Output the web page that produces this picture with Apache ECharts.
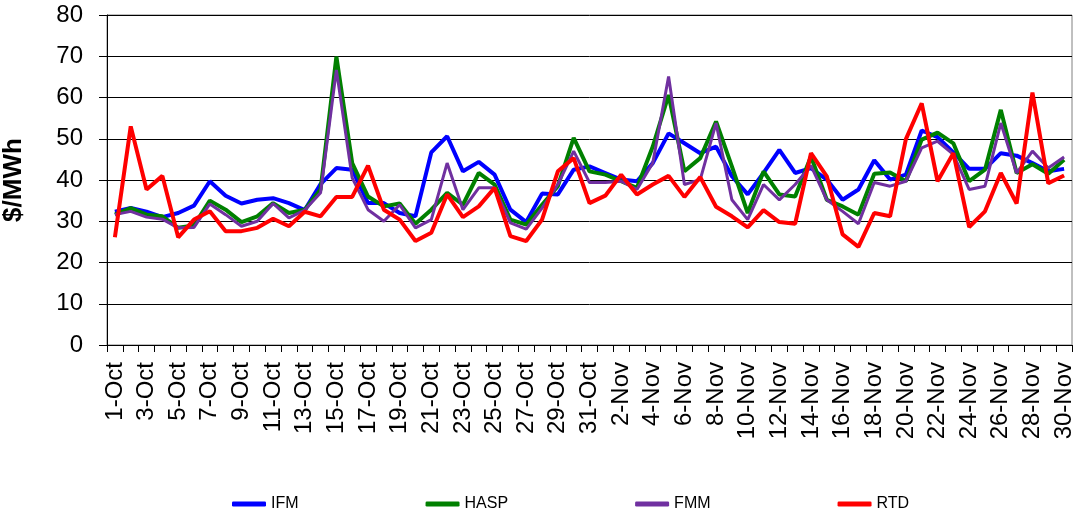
<!DOCTYPE html>
<html>
<head>
<meta charset="utf-8">
<script src="https://cdn.jsdelivr.net/npm/echarts@6/dist/echarts.min.js"></script>
<style>
html,body{margin:0;padding:0;background:#fff;}
#chart{width:1074px;height:517px;}
</style>
</head>
<body>
<div id="chart"></div>
<script>
const categories = ["1-Oct","2-Oct","3-Oct","4-Oct","5-Oct","6-Oct","7-Oct","8-Oct","9-Oct","10-Oct",
"11-Oct","12-Oct","13-Oct","14-Oct","15-Oct","16-Oct","17-Oct","18-Oct","19-Oct","20-Oct",
"21-Oct","22-Oct","23-Oct","24-Oct","25-Oct","26-Oct","27-Oct","28-Oct","29-Oct","30-Oct","31-Oct",
"1-Nov","2-Nov","3-Nov","4-Nov","5-Nov","6-Nov","7-Nov","8-Nov","9-Nov","10-Nov",
"11-Nov","12-Nov","13-Nov","14-Nov","15-Nov","16-Nov","17-Nov","18-Nov","19-Nov","20-Nov",
"21-Nov","22-Nov","23-Nov","24-Nov","25-Nov","26-Nov","27-Nov","28-Nov","29-Nov","30-Nov"];

const ifm = [32.3,33.2,32.3,31,32,33.8,39.7,36.2,34.3,35.2,
35.6,34.4,32.7,39,42.9,42.5,34.4,34.4,32,31.2,
46.7,50.6,42.1,44.4,41.3,32.8,29.8,36.7,36.5,42.5,
43.3,41.7,40.1,39.7,44.1,51.3,48.9,46.5,48.1,40.9,
36.5,41.7,47.3,41.7,42.9,40.1,35.2,37.7,44.8,40.1,
41.3,52,50.4,46.7,42.7,42.7,46.5,45.9,44.1,42.1,42.7];

const hasp = [31.6,33.2,31.6,31.2,28.4,29,35,32.8,29.8,31.2,
34.4,32,32.8,37.7,69.9,44.1,36,33.6,34.3,29.4,
32.8,36.9,34,41.7,38.9,30.4,29.2,34,38.5,50.2,
42.1,41.3,39.7,38.1,48.1,60.6,42.1,45.3,54.2,43.3,
32,42.1,36.5,36,45.7,35.2,33.6,31.6,41.5,41.8,
39.7,49.8,51.5,48.9,39.7,42.5,57,41.7,43.8,41.5,44.9];

const fmm = [31.6,32.4,31,30.5,28.4,28.5,34.2,31.6,28.8,30,
34.3,30.8,32.7,36.9,66.7,40.5,32.8,30,34,28.4,
30.4,44.1,32.8,38.1,38.1,29.6,28.1,33.2,38.9,47,
39.4,39.4,39.7,37.7,44.1,65.1,38.9,40.1,53.8,35.2,
30.4,38.9,35.2,38.9,43.5,35.2,32.4,29.4,39.4,38.5,
39.7,47.8,49.4,46.2,37.7,38.5,53.8,41.7,47,42.9,45.6];

const rtd = [26.1,53,37.7,41,26.1,30.4,32.4,27.6,27.6,28.4,
30.6,28.8,32.3,31.2,35.9,35.9,43.5,32.8,30.4,25.2,
27.2,36.5,31,33.6,38.1,26.4,25.2,30.4,42.1,45.3,
34.4,36.2,41.3,36.5,38.9,41,35.9,40.7,33.5,31.2,
28.5,32.7,29.8,29.4,46.5,40.9,26.8,23.8,32,31.2,
49.9,58.6,39.7,46.5,28.6,32.4,41.7,34.3,61.2,39.2,41.1];

const seriesNames = ["IFM","HASP","FMM","RTD"];
const seriesColors = ["#0000FF","#008000","#7030A0","#FF0000"];
const seriesWidths = [4,4,3,4];
const seriesData = [ifm, hasp, fmm, rtd];

const FONT = "'Liberation Sans', Arial, sans-serif";
const chart = echarts.init(document.getElementById('chart'), null, {renderer:'canvas'});
chart.setOption({
  animation: false,
  backgroundColor: '#ffffff',
  textStyle: {fontFamily: FONT, color: '#000'},
  grid: {left: 107, right: 2, top: 15, bottom: 172, containLabel: false, outerBoundsMode: 'none',
         show: true, borderColor: '#808080', borderWidth: 1},
  legend: {
    data: seriesNames,
    left: 232, top: 496, padding: 0,
    itemWidth: 34, itemHeight: 5, itemGap: 127,
    icon: 'roundRect',
    textStyle: {fontFamily: FONT, fontSize: 16, color: '#000'}
  },
  xAxis: {
    type: 'category',
    data: categories,
    boundaryGap: true,
    axisLine: {show: true, lineStyle: {color: '#000', width: 1}},
    axisTick: {show: true, interval: 0, length: 7, lineStyle: {color: '#000'}},
    axisLabel: {interval: 1, rotate: 90, margin: 17, fontSize: 24, fontFamily: FONT, color: '#000', hideOverlap: false},
    splitLine: {show: false}
  },
  yAxis: {
    type: 'value',
    min: 0, max: 80, interval: 10,
    name: '$/MWh',
    nameLocation: 'middle',
    nameGap: 80,
    nameRotate: 90,
    nameTextStyle: {fontFamily: FONT, fontSize: 26, fontWeight: 'bold', color: '#000'},
    axisLine: {show: true, lineStyle: {color: '#000', width: 1}},
    axisTick: {show: true, inside: false, length: 8, lineStyle: {color: '#000'}},
    axisLabel: {margin: 24, fontSize: 24, fontFamily: FONT, color: '#000'},
    splitLine: {show: true, lineStyle: {color: '#000', width: 1}}
  },
  series: seriesNames.map((n, k) => ({
    name: n,
    type: 'line',
    data: seriesData[k],
    symbol: 'none',
    smooth: false,
    color: seriesColors[k],
    lineStyle: {color: seriesColors[k], width: seriesWidths[k]},
    z: 2 + k
  }))
});
</script>
</body>
</html>
